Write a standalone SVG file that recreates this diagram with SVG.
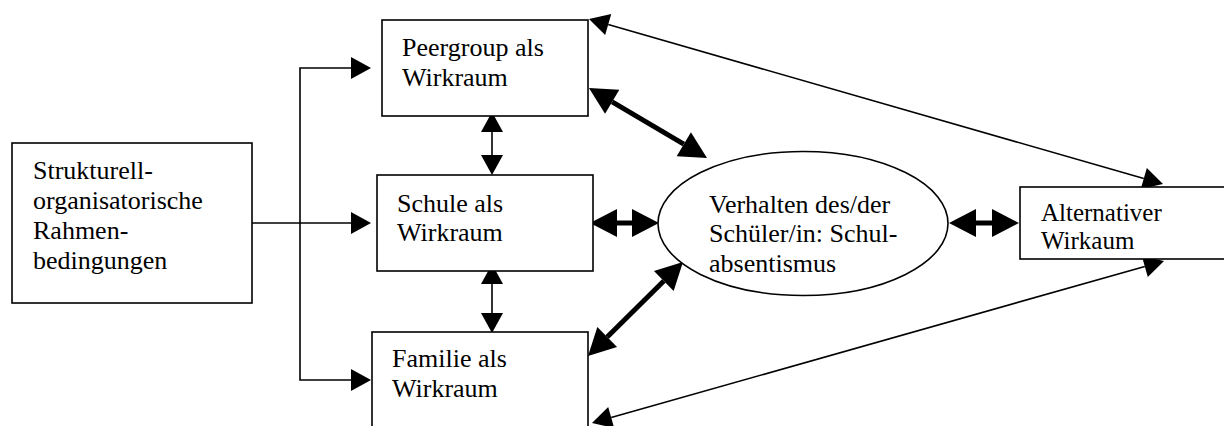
<svg xmlns="http://www.w3.org/2000/svg" width="1224" height="426" viewBox="0 0 1224 426">
  <style>
    .box { fill: #fff; stroke: #000; stroke-width: 1.6; }
    .lbl { font-family: "Liberation Serif", "Times New Roman", serif; font-size: 26px; fill: #000; }
    .lbl-s { font-size: 25px; }
    .thin { fill: none; stroke: #000; stroke-width: 1.6; }
    .thick { fill: none; stroke: #000; stroke-width: 5; }
  </style>
  <defs>
    <marker id="head" markerUnits="userSpaceOnUse" viewBox="0 -12 21 24" refX="0" refY="0" markerWidth="21" markerHeight="24" orient="auto-start-reverse" overflow="visible">
      <path d="M0,-11 L20,0 L0,11 Z" fill="#000"/>
    </marker>
    <marker id="head-big" markerUnits="userSpaceOnUse" viewBox="0 -15 28 30" refX="0" refY="0" markerWidth="28" markerHeight="30" orient="auto-start-reverse" overflow="visible">
      <path d="M0,-14 L27,0 L0,14 Z" fill="#000"/>
    </marker>
  </defs>

  <g id="connectors">
    <!-- distribution from the framework conditions -->
    <polyline class="thin" points="252,223 351,223" marker-end="url(#head)"/>
    <polyline class="thin" points="351,68 300,68 300,380 351,380" marker-start="url(#head)" marker-end="url(#head)"/>
    <!-- vertical links between the spaces -->
    <line class="thin" x1="492" y1="132" x2="492" y2="155" marker-start="url(#head)" marker-end="url(#head)"/>
    <line class="thin" x1="492" y1="284" x2="492" y2="313" marker-start="url(#head)" marker-end="url(#head)"/>
    <!-- heavy links to the behaviour ellipse -->
    <line class="thick" x1="612.2" y1="101.8" x2="683.8" y2="144.2" marker-start="url(#head-big)" marker-end="url(#head-big)"/>
    <line class="thick" x1="617" y1="223" x2="632" y2="223" marker-start="url(#head-big)" marker-end="url(#head-big)"/>
    <line class="thick" x1="607.2" y1="337" x2="663.8" y2="281" marker-start="url(#head-big)" marker-end="url(#head-big)"/>
    <line class="thick" x1="976" y1="223" x2="992" y2="223" marker-start="url(#head-big)" marker-end="url(#head-big)"/>
    <!-- long links to the alternative space -->
    <line class="thin" x1="608.2" y1="24.5" x2="1143.8" y2="178.5" marker-start="url(#head)" marker-end="url(#head)"/>
    <line class="thin" x1="611.2" y1="417.5" x2="1144.8" y2="266.5" marker-start="url(#head)" marker-end="url(#head)"/>
  </g>

  <g id="rahmen">
    <rect class="box" x="12" y="143" width="240" height="160"/>
    <text class="lbl" x="33"><tspan x="33" y="179">Strukturell-</tspan><tspan x="33" y="209">organisatorische</tspan><tspan x="33" y="239">Rahmen-</tspan><tspan x="33" y="269">bedingungen</tspan></text>
  </g>

  <g id="peergroup">
    <rect class="box" x="382" y="20" width="206" height="96"/>
    <text class="lbl"><tspan x="402" y="56">Peergroup als</tspan><tspan x="402" y="86">Wirkraum</tspan></text>
  </g>

  <g id="schule">
    <rect class="box" x="377" y="175" width="216" height="96"/>
    <text class="lbl"><tspan x="397" y="212">Schule als</tspan><tspan x="397" y="241">Wirkraum</tspan></text>
  </g>

  <g id="familie">
    <rect class="box" x="372" y="332" width="216" height="110"/>
    <text class="lbl"><tspan x="392" y="367">Familie als</tspan><tspan x="392" y="397">Wirkraum</tspan></text>
  </g>

  <g id="verhalten">
    <ellipse class="box" cx="803" cy="223.5" rx="145" ry="72"/>
    <text class="lbl"><tspan x="709" y="213">Verhalten des/der</tspan><tspan x="709" y="242">Schüler/in: Schul-</tspan><tspan x="709" y="272">absentismus</tspan></text>
  </g>

  <g id="alternativ">
    <rect class="box" x="1020" y="187" width="220" height="72"/>
    <text class="lbl lbl-s"><tspan x="1041" y="221">Alternativer</tspan><tspan x="1041" y="249">Wirkaum</tspan></text>
  </g>
</svg>
